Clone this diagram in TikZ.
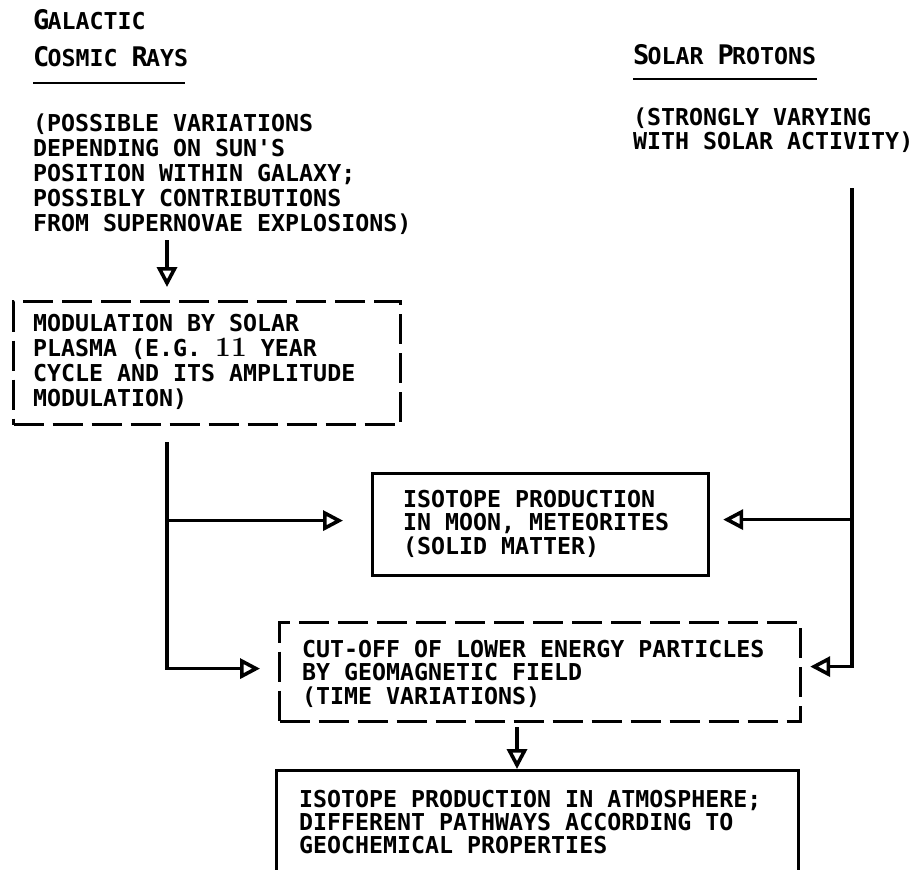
\documentclass[tikz,border=0pt]{standalone}
\usepackage{fontspec}
\usetikzlibrary{arrows.meta}
\newfontfamily\mono{DejaVu Sans Mono}
\newcommand\capinit[1]{\makebox[14.5pt][l]{\fontsize{27}{27}\selectfont #1}}
\newcommand\serifnum[1]{{\rmfamily\bfseries\fontsize{28}{28}\selectfont #1}}
\begin{document}
\begin{tikzpicture}[x=1pt,y=-1pt,
  txt/.style={font={\mono\bfseries\fontsize{23.26}{#1}\selectfont}, inner sep=0pt, anchor=base west, align=left},
  txt/.default=25,
  boxbase/.style={draw, line width=3.2pt, anchor=north west, inner sep=0pt},
  solidbox/.style={boxbase},
  dashbox/.style={boxbase, dash pattern=on 30pt off 9pt},
  conn/.style={line width=3.2pt, line join=miter},
  arr/.style={conn, -{Triangle[open,length=20pt,width=20pt,line width=3.6pt]}},
  uline/.style={line width=2.4pt}]
\path[use as bounding box, clip] (0,0) rectangle (914,870);

% headings
\node[txt] (gal1) at (33,29) {\capinit{G}ALACTIC};
\node[txt] (gal2) at (33,66) {\capinit{C}OSMIC \capinit{R}AYS};
\draw[uline] ([yshift=-17pt]gal2.base west) -- ++(152,0);
\node[txt] (sol) at (633,64) {\capinit{S}OLAR \capinit{P}ROTONS};
\draw[uline] ([yshift=-15pt]sol.base west) -- ++(184,0);

% descriptive texts (anchor = baseline of last line)
\node[txt] (gcr) at (33,231) {(POSSIBLE VARIATIONS\\DEPENDING ON SUN'S\\POSITION WITHIN GALAXY;\\POSSIBLY CONTRIBUTIONS\\FROM SUPERNOVAE EXPLOSIONS)};
\node[txt=24] (sp) at (633,149) {(STRONGLY VARYING\\WITH SOLAR ACTIVITY)};

% boxes
\node[dashbox, minimum width=387pt, minimum height=123pt] (mod) at (12,300) {};
\node[txt] (modt) at (33,406) {MODULATION BY SOLAR\\PLASMA (E.G. \serifnum{11} YEAR\\CYCLE AND ITS AMPLITUDE\\MODULATION)};

\node[solidbox, minimum width=336pt, minimum height=102pt] (moon) at (371,472) {};
\node[txt=23.5] (moont) at (403,554) {ISOTOPE PRODUCTION\\IN MOON, METEORITES\\(SOLID MATTER)};

\node[dashbox, minimum width=521pt, minimum height=99pt] (cut) at (278,621) {};
\node[txt=23.5] (cutt) at (302,704) {CUT-OFF OF LOWER ENERGY PARTICLES\\BY GEOMAGNETIC FIELD\\(TIME VARIATIONS)};

\node[solidbox, minimum width=522pt, minimum height=200pt] (bot) at (275,769) {};
\node[txt=23] (bott) at (299,853) {ISOTOPE PRODUCTION IN ATMOSPHERE;\\DIFFERENT PATHWAYS ACCORDING TO\\GEOCHEMICAL PROPERTIES};

% connectors
\coordinate (a1) at (167,240);
\draw[arr] (a1) -- ([yshift=13pt]mod.north -| a1);

\coordinate (t0) at (167,442);
\draw[arr] (t0) |- ([xshift=-18pt,yshift=3.5pt]cut.west);
\draw[arr] ([yshift=4pt]moon.west -| t0) -- ([xshift=-28pt,yshift=4pt]moon.west);

\coordinate (r0) at (852,188);
\draw[arr] (r0) |- ([xshift=8pt,yshift=5.5pt]cut.east);
\draw[arr] ([yshift=5pt]moon.east -| r0) -- ([xshift=13pt,yshift=5pt]moon.east);

\coordinate (b0) at (517,727);
\draw[arr] (b0) -- (b0 |- bot.north);
\end{tikzpicture}
\end{document}
